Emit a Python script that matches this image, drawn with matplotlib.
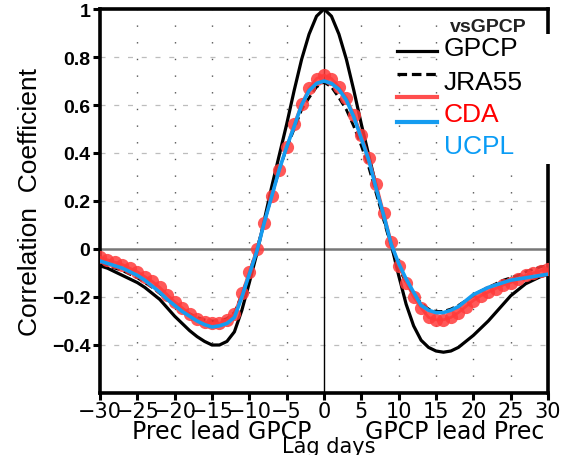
import numpy as np
import matplotlib
matplotlib.use('Agg')
import matplotlib.pyplot as plt
from matplotlib.patches import Rectangle

# lag correlation with GPCP
lags = np.arange(-30, 31)

gpcp = [-0.07, -0.08, -0.095, -0.11, -0.125, -0.14, -0.16, -0.185, -0.21, -0.245,
        -0.28, -0.31, -0.34, -0.365, -0.385, -0.40, -0.40, -0.385, -0.345, -0.255,
        -0.14, -0.02, 0.12, 0.26, 0.39, 0.52, 0.66, 0.79, 0.895, 0.97,
        1.0,
        0.97, 0.895, 0.79, 0.66, 0.52, 0.39, 0.26, 0.13, 0.02, -0.11,
        -0.23, -0.32, -0.38, -0.41, -0.425, -0.43, -0.425, -0.41, -0.385, -0.36,
        -0.33, -0.30, -0.265, -0.23, -0.195, -0.17, -0.145, -0.13, -0.115, -0.105]

jra55 = [-0.06, -0.07, -0.08, -0.09, -0.105, -0.12, -0.14, -0.16, -0.185, -0.21,
         -0.235, -0.255, -0.27, -0.285, -0.295, -0.30, -0.30, -0.29, -0.265, -0.19,
         -0.10, 0.0, 0.11, 0.22, 0.33, 0.42, 0.50, 0.58, 0.63, 0.675,
         0.695,
         0.675, 0.63, 0.58, 0.51, 0.43, 0.34, 0.23, 0.12, 0.01, -0.08,
         -0.14, -0.19, -0.225, -0.25, -0.26, -0.26, -0.25, -0.235, -0.215, -0.195,
         -0.175, -0.16, -0.145, -0.13, -0.12, -0.11, -0.095, -0.085, -0.075, -0.068]

cda = [-0.035, -0.045, -0.055, -0.065, -0.08, -0.095, -0.115, -0.135, -0.16, -0.19,
       -0.22, -0.245, -0.27, -0.29, -0.305, -0.31, -0.31, -0.295, -0.27, -0.185,
       -0.095, 0.0, 0.11, 0.22, 0.33, 0.425, 0.52, 0.605, 0.67, 0.71,
       0.725,
       0.71, 0.675, 0.63, 0.56, 0.475, 0.38, 0.27, 0.15, 0.03, -0.07,
       -0.14, -0.20, -0.245, -0.285, -0.295, -0.295, -0.285, -0.265, -0.24, -0.215,
       -0.195, -0.18, -0.165, -0.15, -0.14, -0.125, -0.11, -0.10, -0.09, -0.083]

ucpl = [-0.05, -0.06, -0.07, -0.08, -0.095, -0.11, -0.13, -0.155, -0.18, -0.21,
        -0.235, -0.26, -0.28, -0.30, -0.315, -0.325, -0.32, -0.31, -0.285, -0.20,
        -0.105, -0.01, 0.11, 0.22, 0.33, 0.425, 0.51, 0.60, 0.66, 0.69,
        0.70,
        0.69, 0.665, 0.62, 0.55, 0.46, 0.37, 0.25, 0.14, 0.02, -0.06,
        -0.125, -0.18, -0.235, -0.255, -0.265, -0.265, -0.255, -0.24, -0.215, -0.19,
        -0.175, -0.16, -0.15, -0.14, -0.13, -0.125, -0.12, -0.115, -0.11, -0.105]

names = ['GPCP', 'JRA55', 'CDA', 'UCPL']
text_colors = ['black', 'black', '#ff0000', '#0a9cf5']

xticks = np.arange(-30, 31, 5)
yticks = [-0.4, -0.2, 0, 0.2, 0.4, 0.6, 0.8, 1]
ytick_labels = ['\u22120.4', '\u22120.2', '0', '0.2', '0.4', '0.6', '0.8', '1']

fig = plt.figure(figsize=(5.71, 4.56), dpi=100)
ax = fig.add_axes([100/571, 1 - 394/456, 448/571, 384/456])

ax.set_xlim(-30, 30)
ax.set_ylim(-0.6, 1.0)

# grid
for yv in [-0.4, -0.2, 0.2, 0.4, 0.6, 0.8]:
    ax.axhline(yv, color='#bdbdbd', lw=0.9, linestyle=(0, (4, 7)), zorder=0.5)
# box behind legend text
ax.add_patch(Rectangle(((442-100)/448, (394-165)/384), (546-442)/448, (165-12)/384,
                       transform=ax.transAxes, facecolor='white', edgecolor='none', zorder=1.2))
for xv in xticks[1:-1]:
    if xv == 0:
        continue
    ax.axvline(xv, color='#555555', lw=1.0, linestyle=(0, (1, 11)), zorder=1)
ax.axhline(0, color='#777777', lw=1.8, zorder=1.5)
ax.axvline(0, color='black', lw=1.0, zorder=1.5)

ax.plot(lags, gpcp, color='black', lw=2.3, zorder=3)
ax.plot(lags, jra55, color='black', lw=2.0, linestyle=(0, (3, 1.5)), zorder=3)
ax.plot(lags, cda, color='#ff3b3b', lw=2.0, marker='o', markersize=9.5,
        markeredgewidth=0, alpha=0.85, zorder=3.5)
ax.plot(lags, ucpl, color='#159cf0', lw=2.6, zorder=4)

for s in ax.spines.values():
    s.set_linewidth(2.6)
# gap in the right spine behind the legend
ax.add_patch(Rectangle(((540-100)/448, (394-165)/384), (556-540)/448, (165-35)/384,
                       transform=ax.transAxes, facecolor='white', edgecolor='none',
                       zorder=5, clip_on=False))

ax.set_xticks(xticks)
ax.set_xticklabels([str(v).replace('-', '\u2212') for v in xticks],
                   fontsize=15, family='DejaVu Sans')
ax.set_yticks(yticks)
ax.set_yticklabels(ytick_labels, fontsize=14, fontweight='bold', family='Liberation Sans')
ax.tick_params(axis='both', direction='out', length=5, width=2.2, pad=2)
ax.tick_params(axis='x', pad=1)

ax.set_ylabel('Correlation  Coefficient', fontsize=19, family='Liberation Sans', labelpad=7)

fig.text(222/571, 1 - 439/456, 'Prec lead GPCP', ha='center', va='baseline',
         fontsize=17, family='DejaVu Sans')
fig.text(455/571, 1 - 439/456, 'GPCP lead Prec', ha='center', va='baseline',
         fontsize=17, family='DejaVu Sans')
fig.text(329/571, 1 - 453/456, 'Lag days', ha='center', va='baseline',
         fontsize=15, family='DejaVu Sans')

# legend drawn by hand
line_y = [51.7, 75, 98, 123]
text_y = [49, 82.5, 115, 147]
styles = [dict(color='black', lw=2.3), dict(color='black', lw=2.3, linestyle=(0, (3, 1.5))),
          dict(color='#ff3b3b', lw=3.0, alpha=0.9), dict(color='#159cf0', lw=3.0)]
ax.text((450-100)/448, (394-27.5)/384, 'vsGPCP', transform=ax.transAxes, ha='left',
        va='center', fontsize=14, fontweight='bold', family='Liberation Sans',
        color='#222222', zorder=6)
for name, tc, ly, ty, st in zip(names, text_colors, line_y, text_y, styles):
    ax.plot([(397-100)/448, (437-100)/448], [(394-ly)/384]*2, transform=ax.transAxes,
            clip_on=False, zorder=6, **st)
    ax.text((444-100)/448, (394-ty)/384, name, transform=ax.transAxes, ha='left',
            va='center', fontsize=19, family='Liberation Sans', color=tc, zorder=6)

fig.savefig('out.png', dpi=100)
